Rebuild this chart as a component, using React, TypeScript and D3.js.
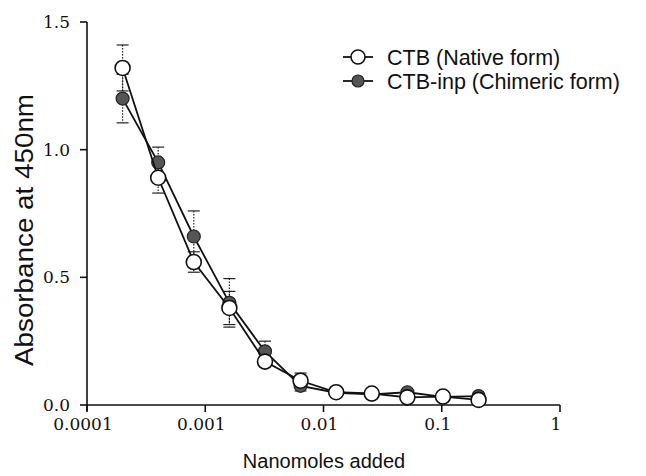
import React from "react";
import * as d3 from "d3";

// nanomoles added (2-fold dilutions)
const doses = [0.0002, 0.0004, 0.0008, 0.0016, 0.0032, 0.0064, 0.0128, 0.0256, 0.0512, 0.1024, 0.2048];
const nativeVals = [1.32, 0.89, 0.56, 0.38, 0.17, 0.095, 0.05, 0.045, 0.03, 0.033, 0.02];
const nativeErr = [0.09, 0.06, 0.04, 0.065, 0.02, 0.03, 0, 0, 0, 0, 0];
const chimericVals = [1.2, 0.95, 0.66, 0.4, 0.21, 0.075, 0.048, 0.042, 0.05, 0.032, 0.035];
const chimericErr = [0.095, 0.06, 0.1, 0.095, 0.04, 0.02, 0, 0, 0, 0, 0];
const xTicks = [0.0001, 0.001, 0.01, 0.1, 1];
const xTickLabels = ["0.0001", "0.001", "0.01", "0.1", "1"];
const yTicks = [0, 0.5, 1.0, 1.5];
const yTickLabels = ["0.0", "0.5", "1.0", "1.5"];
const legendLabels = ["CTB (Native form)", "CTB-inp (Chimeric form)"];

const W = 646;
const H = 476;
const left = 87;
const right = 560;
const top = 22;
const bottom = 405;

export default function App() {
  const x = d3.scaleLog().domain([0.0001, 1]).range([left, right]);
  const y = d3.scaleLinear().domain([0, 1.5]).range([bottom, top]);
  const line = d3
    .line<number>()
    .x((_, i) => x(doses[i]))
    .y((d) => y(d));

  const serif = "'DejaVu Serif', serif";
  const sans = "'Liberation Sans', Arial, sans-serif";

  const errBars = (vals: number[], errs: number[], key: string) =>
    vals.map((v, i) =>
      errs[i] > 0 ? (
        <g key={key + i} stroke="#222" strokeWidth={1.2}>
          <line x1={x(doses[i])} x2={x(doses[i])} y1={y(v + errs[i])} y2={y(v - errs[i])} strokeDasharray="1.5,1.5" />
          <line x1={x(doses[i]) - 6} x2={x(doses[i]) + 6} y1={y(v + errs[i])} y2={y(v + errs[i])} />
          <line x1={x(doses[i]) - 6} x2={x(doses[i]) + 6} y1={y(v - errs[i])} y2={y(v - errs[i])} />
        </g>
      ) : null
    );

  return (
    <svg width={W} height={H} style={{ position: "absolute", left: 0, top: 0, background: "#fff" }}>
      {/* axes */}
      <g stroke="#111" strokeWidth={1.6} fill="none">
        <line x1={left} x2={left} y1={top} y2={bottom + 6} />
        <line x1={left} x2={right} y1={bottom} y2={bottom} />
        {yTicks.map((t) => (
          <line key={"yt" + t} x1={left - 7} x2={left} y1={y(t)} y2={y(t)} />
        ))}
        {xTicks.map((t) => (
          <line key={"xt" + t} x1={x(t)} x2={x(t)} y1={bottom} y2={bottom + 7} />
        ))}
      </g>
      {yTicks.map((t, i) => (
        <text key={"yl" + t} x={left - 17} y={y(t)} dy="0.35em" textAnchor="end" fontFamily={serif} fontSize={17} fill="#111">
          {yTickLabels[i]}
        </text>
      ))}
      {xTicks.map((t, i) => (
        <text key={"xl" + t} x={x(t) - 4} y={424} dy="0.35em" textAnchor="middle" fontFamily={serif} fontSize={17} fill="#111">
          {xTickLabels[i]}
        </text>
      ))}
      <text x={324} y={461} dy="0.35em" textAnchor="middle" fontFamily={sans} fontSize={20} fill="#111">
        Nanomoles added
      </text>
      <text
        transform={`translate(24,230) rotate(-90)`}
        dy="0.35em"
        textAnchor="middle"
        fontFamily={sans}
        fontSize={26}
        textLength={272}
        lengthAdjust="spacingAndGlyphs"
        fill="#111"
      >
        Absorbance at 450nm
      </text>

      {/* error bars */}
      {errBars(chimericVals, chimericErr, "ce")}
      {errBars(nativeVals, nativeErr, "ne")}

      {/* chimeric series */}
      <path d={line(chimericVals) || ""} fill="none" stroke="#111" strokeWidth={1.8} />
      {chimericVals.map((v, i) => (
        <circle key={"c" + i} cx={x(doses[i])} cy={y(v)} r={6.5} fill="#555" stroke="#222" strokeWidth={1.2} />
      ))}

      {/* native series */}
      <path d={line(nativeVals) || ""} fill="none" stroke="#111" strokeWidth={1.8} />
      {nativeVals.map((v, i) => (
        <circle key={"n" + i} cx={x(doses[i])} cy={y(v)} r={7.5} fill="#fff" stroke="#111" strokeWidth={1.6} />
      ))}

      {/* legend */}
      <g>
        <line x1={343} x2={373} y1={57} y2={57} stroke="#111" strokeWidth={1.8} />
        <circle cx={358} cy={57} r={7} fill="#fff" stroke="#111" strokeWidth={1.6} />
        <text x={387} y={57} dy="0.35em" fontFamily={sans} fontSize={21.5} fill="#111">
          {legendLabels[0]}
        </text>
        <line x1={343} x2={373} y1={81} y2={81} stroke="#111" strokeWidth={1.8} />
        <circle cx={358} cy={81} r={6} fill="#555" stroke="#222" strokeWidth={1.2} />
        <text x={387} y={81} dy="0.35em" fontFamily={sans} fontSize={21.5} fill="#111">
          {legendLabels[1]}
        </text>
      </g>
    </svg>
  );
}
